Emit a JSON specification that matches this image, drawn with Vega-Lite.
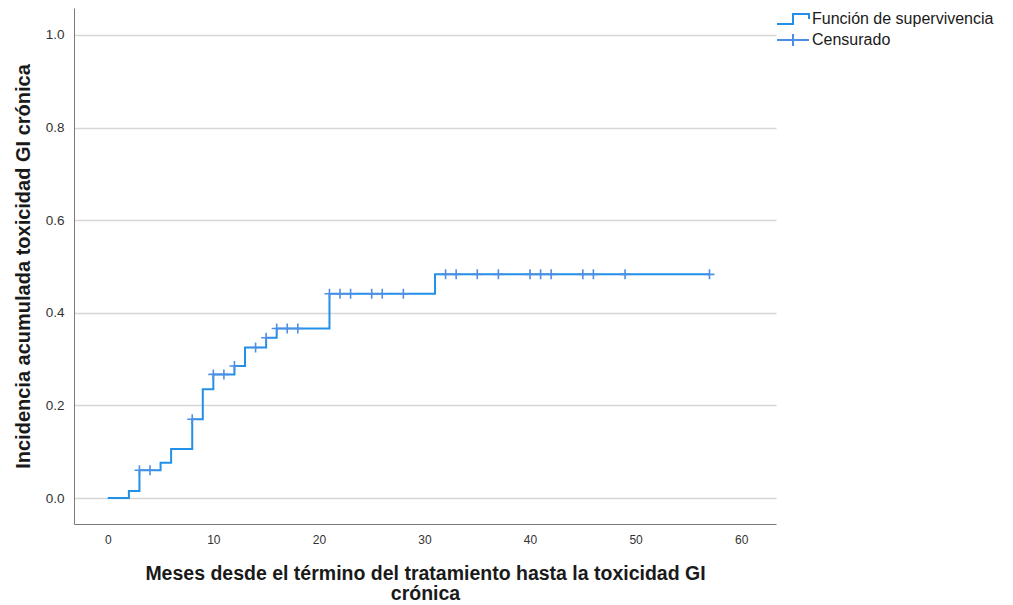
{
  "$schema": "https://vega.github.io/schema/vega-lite/v6.json",
  "width": 702,
  "height": 516,
  "autosize": {"type": "none"},
  "padding": {"left": 74, "top": 8, "right": 237, "bottom": 81},
  "background": "white",
  "datasets": {
    "curva": [
      {"meses": 0, "incidencia": 0},
      {"meses": 2, "incidencia": 0.015},
      {"meses": 3, "incidencia": 0.06},
      {"meses": 5, "incidencia": 0.076},
      {"meses": 6, "incidencia": 0.106},
      {"meses": 8, "incidencia": 0.17},
      {"meses": 9, "incidencia": 0.235},
      {"meses": 10, "incidencia": 0.267},
      {"meses": 12, "incidencia": 0.285},
      {"meses": 13, "incidencia": 0.325},
      {"meses": 15, "incidencia": 0.346},
      {"meses": 16, "incidencia": 0.366},
      {"meses": 21, "incidencia": 0.441},
      {"meses": 31, "incidencia": 0.483},
      {"meses": 57, "incidencia": 0.483}
    ],
    "censurados": [
      {"meses": 3, "incidencia": 0.06},
      {"meses": 4, "incidencia": 0.06},
      {"meses": 8, "incidencia": 0.17},
      {"meses": 10, "incidencia": 0.267},
      {"meses": 11, "incidencia": 0.267},
      {"meses": 12, "incidencia": 0.285},
      {"meses": 14, "incidencia": 0.325},
      {"meses": 15, "incidencia": 0.346},
      {"meses": 16, "incidencia": 0.366},
      {"meses": 17, "incidencia": 0.366},
      {"meses": 18, "incidencia": 0.366},
      {"meses": 21, "incidencia": 0.441},
      {"meses": 22, "incidencia": 0.441},
      {"meses": 23, "incidencia": 0.441},
      {"meses": 25, "incidencia": 0.441},
      {"meses": 26, "incidencia": 0.441},
      {"meses": 28, "incidencia": 0.441},
      {"meses": 32, "incidencia": 0.483},
      {"meses": 33, "incidencia": 0.483},
      {"meses": 35, "incidencia": 0.483},
      {"meses": 37, "incidencia": 0.483},
      {"meses": 40, "incidencia": 0.483},
      {"meses": 41, "incidencia": 0.483},
      {"meses": 42, "incidencia": 0.483},
      {"meses": 45, "incidencia": 0.483},
      {"meses": 46, "incidencia": 0.483},
      {"meses": 49, "incidencia": 0.483},
      {"meses": 57, "incidencia": 0.483}
    ],
    "leyenda": [
      {"serie": "Función de supervivencia"},
      {"serie": "Censurado"}
    ]
  },
  "encoding": {
    "x": {
      "field": "meses",
      "type": "quantitative",
      "scale": {"domain": [-3.2, 63.3], "nice": false, "zero": false},
      "axis": {
        "title": ["Meses desde el término del tratamiento hasta la toxicidad GI", "crónica"],
        "values": [0, 10, 20, 30, 40, 50, 60],
        "grid": false,
        "ticks": false,
        "domainColor": "#7a7a7a",
        "labelFont": "Liberation Sans",
        "labelFontSize": 12,
        "labelColor": "#333333",
        "labelPadding": 10,
        "titleFont": "Liberation Sans",
        "titleFontSize": 19.5,
        "titleFontWeight": "bold",
        "titleColor": "#1a1a1a",
        "titleLineHeight": 20,
        "titlePadding": 19
      }
    },
    "y": {
      "field": "incidencia",
      "type": "quantitative",
      "scale": {"domain": [-0.056, 1.058], "nice": false, "zero": false},
      "axis": {
        "title": "Incidencia acumulada toxicidad GI crónica",
        "values": [0, 0.2, 0.4, 0.6, 0.8, 1.0],
        "format": ".1f",
        "grid": true,
        "gridColor": "#d6d6d6",
        "gridWidth": 1.5,
        "ticks": false,
        "domainColor": "#7a7a7a",
        "labelFont": "Liberation Sans",
        "labelFontSize": 13.5,
        "labelColor": "#333333",
        "labelPadding": 10,
        "titleFont": "Liberation Sans",
        "titleFontSize": 20,
        "titleFontWeight": "bold",
        "titleColor": "#1a1a1a",
        "titlePadding": 12
      }
    }
  },
  "layer": [
    {
      "data": {"name": "curva"},
      "mark": {"type": "line", "interpolate": "step-after", "color": "#2290e8", "strokeWidth": 2},
      "encoding": {}
    },
    {
      "data": {"name": "censurados"},
      "mark": {"type": "point", "shape": "M-1,0H1M0,-1V1", "size": 100, "filled": false, "strokeWidth": 1.6, "opacity": 1, "color": "#4f8fe3"},
      "encoding": {}
    },
    {
      "description": "Entradas de la leyenda: trazo escalonado para la curva y cruz para los casos censurados",
      "data": {"name": "leyenda"},
      "mark": {"type": "point", "filled": false, "opacity": 0, "size": 100},
      "encoding": {
        "x": {"datum": 57},
        "y": {"datum": 0.483},
        "color": {
          "field": "serie",
          "type": "nominal",
          "scale": {"domain": ["Función de supervivencia", "Censurado"], "range": ["#2290e8", "#4f8fe3"]},
          "legend": {
            "title": null,
            "orient": "none",
            "legendX": 711,
            "legendY": 3,
            "padding": 0,
            "symbolSize": 100,
            "symbolStrokeWidth": 2,
            "symbolOpacity": 1,
            "labelOffset": 11,
            "labelLimit": 400,
            "rowPadding": 2,
            "labelFont": "Liberation Sans",
            "labelFontSize": 16,
            "labelColor": "#1a1a1a"
          }
        },
        "shape": {
          "field": "serie",
          "type": "nominal",
          "scale": {"domain": ["Función de supervivencia", "Censurado"], "range": ["M-3.2,1H0V-1H3.2V0", "M-3.2,0H3.2M0,-1.2V1.2"]},
          "legend": {
            "title": null,
            "orient": "none",
            "legendX": 711,
            "legendY": 3,
            "padding": 0,
            "symbolSize": 100,
            "symbolStrokeWidth": 2,
            "symbolOpacity": 1,
            "labelOffset": 11,
            "labelLimit": 400,
            "rowPadding": 2,
            "labelFont": "Liberation Sans",
            "labelFontSize": 16,
            "labelColor": "#1a1a1a"
          }
        }
      }
    }
  ],
  "config": {"view": {"stroke": null}}
}
